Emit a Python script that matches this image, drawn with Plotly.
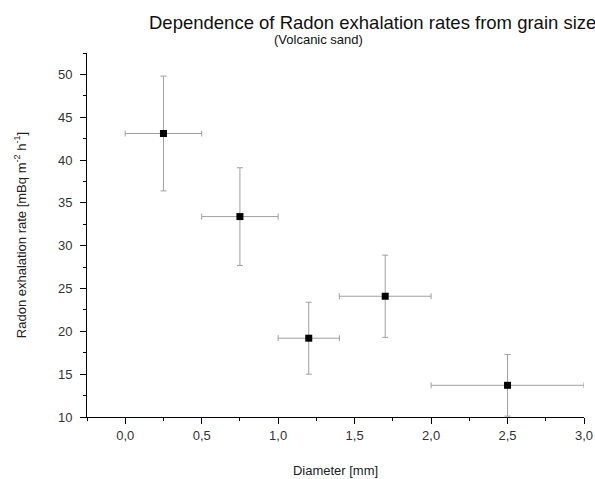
import plotly.graph_objects as go

diameter = [0.25, 0.75, 1.2, 1.7, 2.5]
diameter_err = [0.25, 0.25, 0.2, 0.3, 0.5]
rate = [43.1, 33.4, 19.2, 24.1, 13.7]
rate_err = [6.7, 5.7, 4.2, 4.8, 3.6]

title_text = "Dependence of Radon exhalation rates from grain size"
subtitle_text = "(Volcanic sand)"
x_title = "Diameter [mm]"
y_title = "Radon exhalation rate [mBq m<sup>-2</sup> h<sup>-1</sup>]"

font_family = "Liberation Sans, Arial, sans-serif"
err_color = "#a0a0a0"

fig = go.Figure()
fig.add_trace(go.Scatter(
    x=diameter, y=rate, mode="markers",
    marker=dict(symbol="square", size=7, color="black"),
    error_x=dict(type="data", array=diameter_err, color=err_color, thickness=1, width=3),
    error_y=dict(type="data", array=rate_err, color=err_color, thickness=1, width=3),
    showlegend=False, cliponaxis=False,
))

fig.update_layout(
    width=595, height=479,
    margin=dict(l=87, r=11, t=53, b=62),
    paper_bgcolor="white", plot_bgcolor="white",
    separators=",.",
    font=dict(family=font_family, size=13, color="#222"),
    xaxis=dict(
        range=[-0.25, 3.0], tick0=0, dtick=0.5, tickformat=".1f",
        automargin=False,
        showgrid=False, zeroline=False, showline=True, linecolor="black", linewidth=1,
        ticks="outside", ticklen=6, tickcolor="black", tickwidth=1,
        minor=dict(tick0=0, dtick=0.25, ticks="outside", ticklen=3, tickcolor="black"),
        title=dict(text=x_title, font=dict(size=13), standoff=24),
        tickfont=dict(size=13, color="#333"),
    ),
    yaxis=dict(
        range=[10, 52.5], tick0=10, dtick=5,
        automargin=False,
        showgrid=False, zeroline=False, showline=True, linecolor="black", linewidth=1,
        ticks="outside", ticklen=6, tickcolor="black", tickwidth=1,
        ticklabelstandoff=5,
        minor=dict(tick0=10, dtick=2.5, ticks="outside", ticklen=3, tickcolor="black"),
        title=dict(text=y_title, font=dict(size=13), standoff=28),
        tickfont=dict(size=13, color="#333"),
    ),
    annotations=[
        dict(text=title_text, xref="paper", yref="paper", x=(147-87)/497, y=1 + (53-22)/364,
             xanchor="left", yanchor="middle", showarrow=False, font=dict(size=18.5, color="#111")),
        dict(text=subtitle_text, xref="paper", yref="paper", x=(318-87)/497, y=1 + (53-40)/364,
             xanchor="center", yanchor="middle", showarrow=False, font=dict(size=13, color="#111")),
    ],
)

fig.write_html("out.html")
